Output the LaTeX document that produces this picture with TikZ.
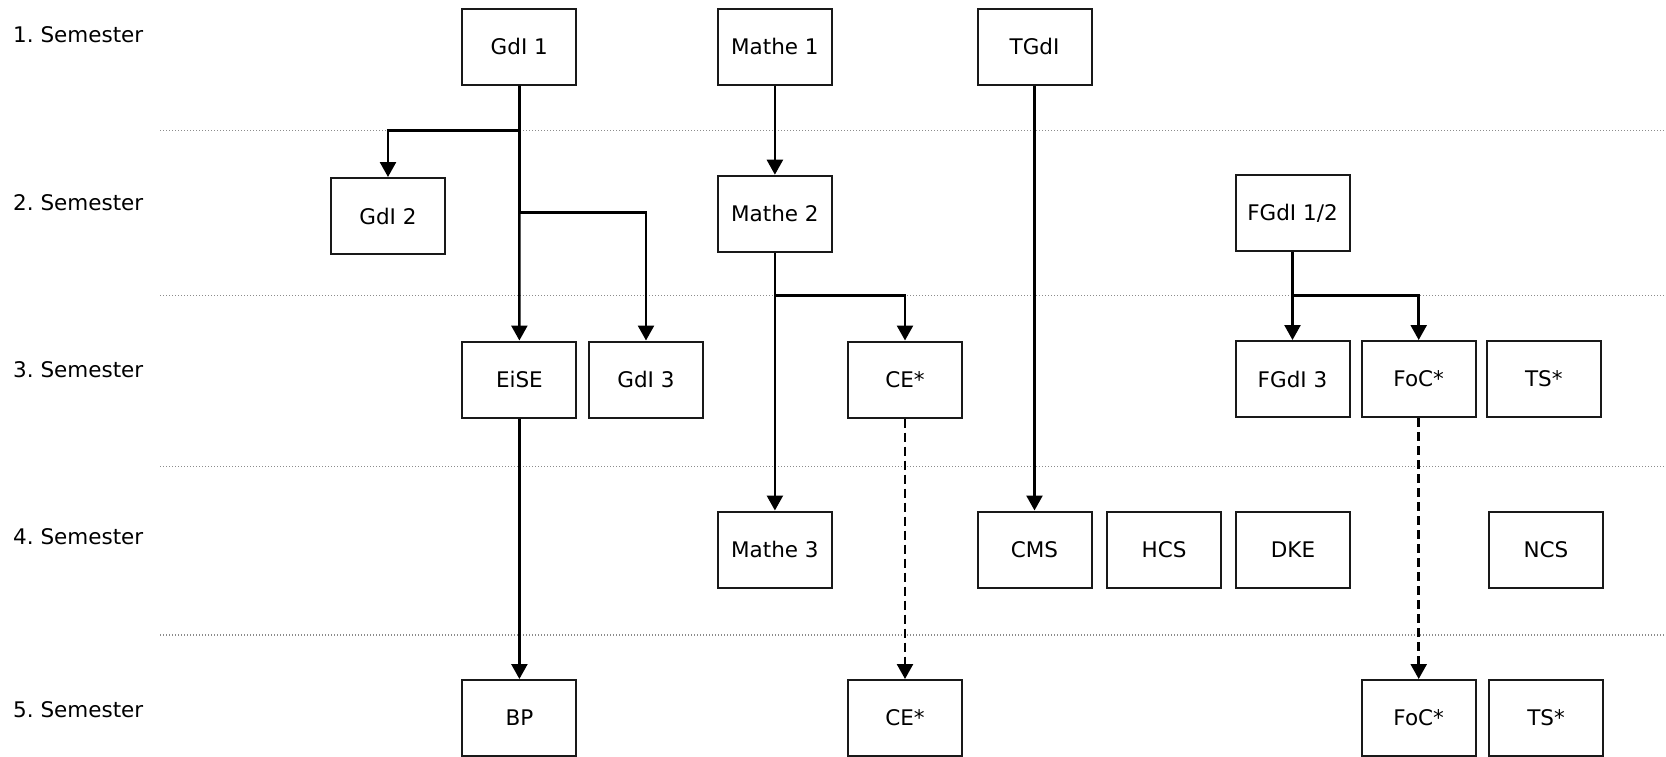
\documentclass[tikz,border=0pt]{standalone}
\usepackage{fontspec}
\setmainfont{DejaVu Sans}
\usetikzlibrary{arrows.meta}
\frenchspacing
\tikzset{
  course/.style={draw=black!90, line width=2pt, minimum width=114pt, minimum height=76pt, inner sep=0pt, fill=white},
  semlabel/.style={anchor=west, inner sep=0pt},
  sepline/.style={draw=black!45, line width=1.1pt, dash pattern=on 1.4pt off 1.6pt},
  arr/.style={draw=black, line width=2.5pt, line join=miter, -{Triangle[length=15pt,width=16pt]}},
  darr/.style={arr, dash pattern=on 9pt off 5pt}
}
\begin{document}
\begin{tikzpicture}[x=1pt,y=-1pt, font=\fontsize{21.5}{26}\selectfont]
\useasboundingbox (0,0) rectangle (1666,756);
% separator lines
\coordinate (l1a) at (160,130.7); \coordinate (l1b) at (1666,130.7);
\coordinate (l2a) at (160,295.7); \coordinate (l2b) at (1666,295.7);
\coordinate (l3a) at (160,466.7); \coordinate (l3b) at (1666,466.7);
\coordinate (l4a) at (160,635);   \coordinate (l4b) at (1666,635);
\draw[sepline] (l1a) -- (l1b);
\draw[sepline] (l2a) -- (l2b);
\draw[sepline] (l3a) -- (l3b);
\draw[sepline] (l4a) -- (l4b);
% semester labels
\node[semlabel] (s1) at (13,34.3) {1. Semester};
\node[semlabel] (s2) at (13,203) {2. Semester};
\node[semlabel] (s3) at (13,369.8) {3. Semester};
\node[semlabel] (s4) at (13,536.6) {4. Semester};
\node[semlabel] (s5) at (13,709.8) {5. Semester};
% row 1
\node[course] (gdi1) at (519.3,46.7) {GdI 1};
\node[course] (mathe1) at (774.9,46.7) {Mathe 1};
\node[course] (tgdi) at (1034.5,46.7) {TGdI};
% row 2
\node[course] (gdi2) at (388,216) {GdI 2};
\node[course] (mathe2) at (774.9,213.7) {Mathe 2};
\node[course] (fgdi12) at (1292.5,213.3) {FGdI 1/2};
% row 3
\node[course] (eise) at (519.4,379.5) {EiSE};
\node[course] (gdi3) at (646,379.5) {GdI 3};
\node[course] (ce3) at (905,379.5) {CE*};
\node[course] (fgdi3) at (1292.5,379) {FGdI 3};
\node[course] (foc3) at (1418.7,379) {FoC*};
\node[course] (ts3) at (1543.8,379) {TS*};
% row 4
\node[course] (mathe3) at (774.9,549.5) {Mathe 3};
\node[course] (cms) at (1034.5,549.5) {CMS};
\node[course] (hcs) at (1164,549.5) {HCS};
\node[course] (dke) at (1293,550) {DKE};
\node[course] (ncs) at (1546,549.5) {NCS};
% row 5
\node[course] (bp) at (519.4,718) {BP};
\node[course] (ce5) at (905,718) {CE*};
\node[course] (foc5) at (1418.7,718) {FoC*};
\node[course] (ts5) at (1546,718) {TS*};
% junctions
\coordinate (j1) at (519.3,130.7);
\coordinate (j2) at (519.3,212.3);
\coordinate (j3) at (774.9,295.7);
\coordinate (j4) at (1292.5,295.7);
% connectors
\draw[arr] (gdi1) -- (eise);
\draw[arr] (gdi1) -- (j1) -| (gdi2);
\draw[arr] (gdi1) -- (j2) -| (gdi3);
\draw[arr] (mathe1) -- (mathe2);
\draw[arr] (mathe2) -- (mathe3);
\draw[arr] (mathe2) -- (j3) -| (ce3);
\draw[arr] (tgdi) -- (cms);
\draw[arr] (fgdi12) -- (fgdi3);
\draw[arr] (fgdi12) -- (j4) -| (foc3);
\draw[arr] (eise) -- (bp);
\draw[darr] (ce3) -- (ce5);
\draw[darr] (foc3) -- (foc5);
\end{tikzpicture}
\end{document}
